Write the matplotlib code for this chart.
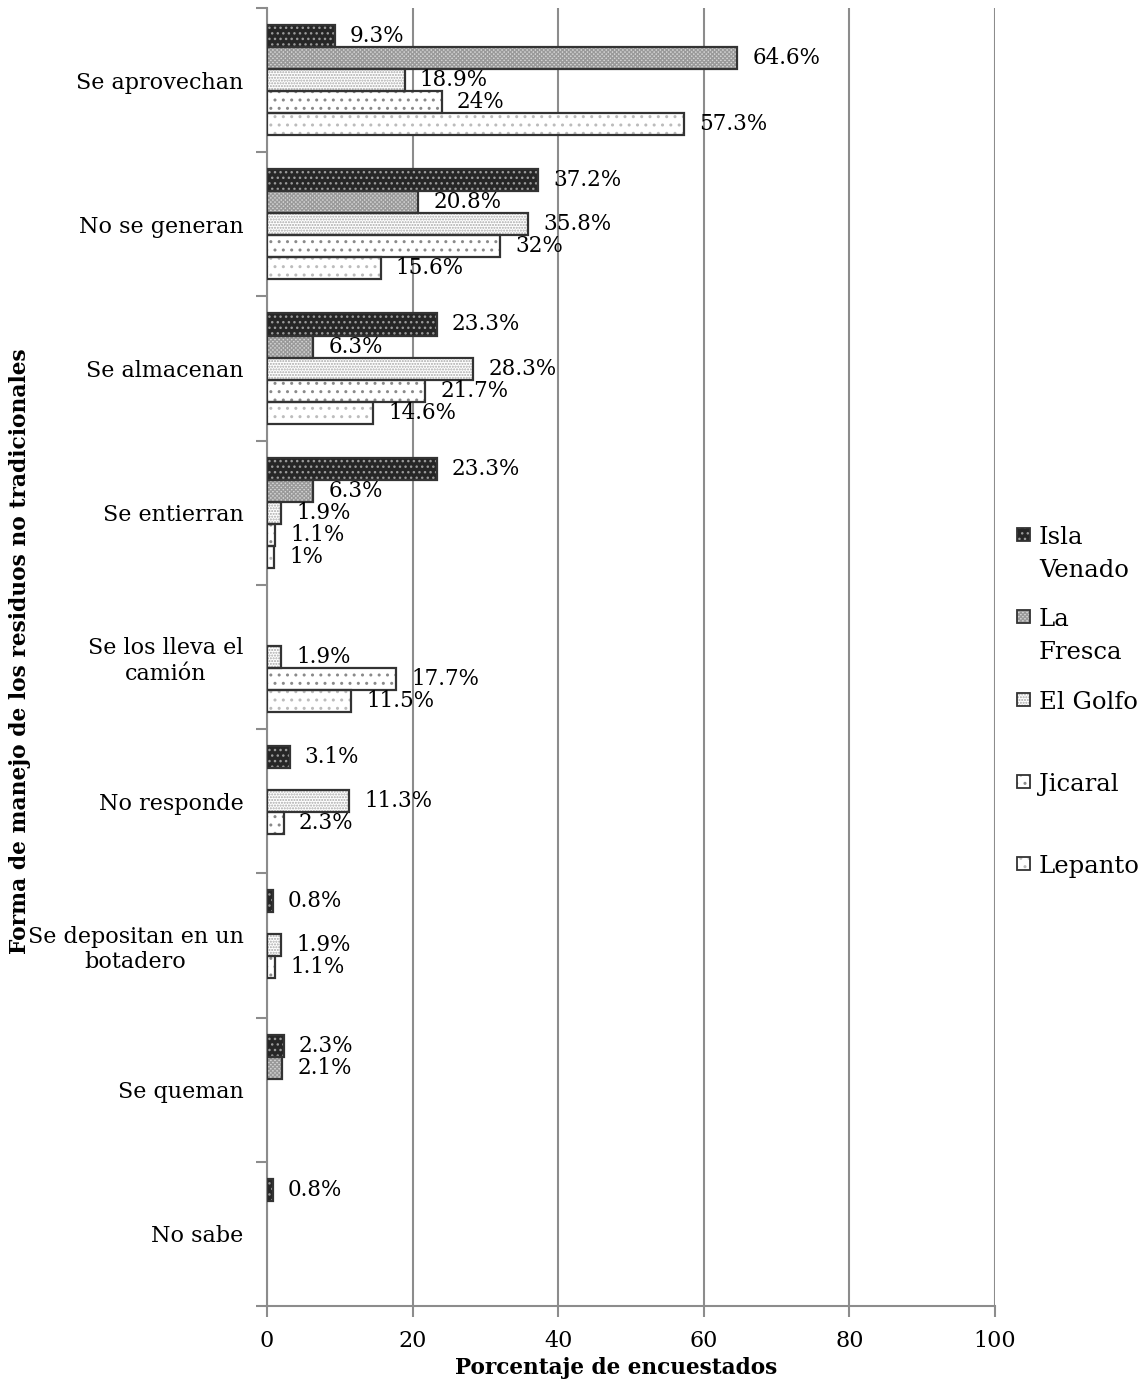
import numpy as np
import matplotlib
matplotlib.use("Agg")
import matplotlib.pyplot as plt
from matplotlib.patches import Rectangle

plt.rcParams['font.family'] = ['DejaVu Serif']

categories = ["Se aprovechan", "No se generan", "Se almacenan", "Se entierran",
              "Se los lleva el\ncamión", "No responde", "Se depositan en un\nbotadero",
              "Se queman", "No sabe"]
series = ["Isla\nVenado", "La\nFresca", "El Golfo", "Jicaral", "Lepanto"]
nan = np.nan
isla_venado = [9.3, 37.2, 23.3, 23.3, nan, 3.1, 0.8, 2.3, 0.8]
la_fresca = [64.6, 20.8, 6.3, 6.3, nan, nan, nan, 2.1, nan]
el_golfo = [18.9, 35.8, 28.3, 1.9, 1.9, 11.3, 1.9, nan, nan]
jicaral = [24, 32, 21.7, 1.1, 17.7, 2.3, 1.1, nan, nan]
lepanto = [57.3, 15.6, 14.6, 1, 11.5, nan, nan, nan, nan]
values = [isla_venado, la_fresca, el_golfo, jicaral, lepanto]
x_ticks = [0, 20, 40, 60, 80, 100]

faces = ['#262626', '#d6d6d6', 'white', 'white', 'white']
hcolors = ['#9a9a9a', '#9a9a9a', '#a8a8a8', '#8a8a8a', '#bcbcbc']
hatches = ['...', '\\\\\\\\\\\\\\\\////////', '......', '..', '..']

W, H = 1148, 1385
fig = plt.figure(figsize=(W/100, H/100), dpi=100)
ax = fig.add_axes([267/W, 1-1306/H, (995-267)/W, (1306-8)/H])

n = len(categories)
bh = 22/144
off = 17/144
for j, vals in enumerate(values):
    for i, v in enumerate(vals):
        if np.isnan(v):
            continue
        yc = i + off + bh*(j+0.5)
        ax.barh(yc, v, height=bh, color=faces[j], edgecolor=hcolors[j],
                hatch=hatches[j], linewidth=0, zorder=3)
        ax.barh(yc, v, height=bh, fill=False, edgecolor='#333333',
                linewidth=1.6, zorder=4)
        lab = ('%g' % v) + '%'
        ax.annotate(lab, (v, yc), xytext=(11, 0), textcoords='offset points',
                    ha='left', va='center', fontsize=15.5, zorder=5)

ax.set_xlim(0, 100)
ax.set_ylim(n, 0)
ax.set_xticks(x_ticks)
ax.set_xticklabels([str(t) for t in x_ticks], fontsize=16)
ax.set_yticks(np.arange(0, n+1))
ax.set_yticklabels([])
ax.set_yticks(np.arange(n)+0.5, minor=True)
ax.set_yticklabels(categories, minor=True, fontsize=16, multialignment='center')
ax.tick_params(axis='y', which='minor', length=0, pad=17)
ax.tick_params(axis='y', which='major', length=8, width=1.5, color='#8c8c8c')
ax.tick_params(axis='x', length=8, width=1.5, color='#8c8c8c', pad=9)
ax.grid(axis='x', color='#8c8c8c', linewidth=1.5, zorder=0)
ax.set_axisbelow(True)
for s in ['top', 'right']:
    ax.spines[s].set_visible(False)
for s in ['left', 'bottom']:
    ax.spines[s].set_color('#8c8c8c')
    ax.spines[s].set_linewidth(1.5)

ax.set_xlabel("Porcentaje de encuestados", fontsize=15.6, fontweight='bold')
ax.xaxis.set_label_coords((616-267)/728, (1306-1368)/1298)
ax.xaxis.label.set_va('center')
ax.set_ylabel("Forma de manejo de los residuos no tradicionales", fontsize=15.7,
              fontweight='bold')
ax.yaxis.set_label_coords((20-267)/728, (1306-651)/1298)
ax.yaxis.label.set_va('center')

# legend, entries placed in equal slots, text top-aligned
slot_y = [535, 617, 700, 782, 864]
for j in range(5):
    yc = slot_y[j]
    fig.add_artist(Rectangle((1017/W, 1-(yc+6)/H), 13/W, 13/H,
                             transform=fig.transFigure, facecolor=faces[j],
                             edgecolor=hcolors[j], hatch=hatches[j], linewidth=0))
    fig.add_artist(Rectangle((1017/W, 1-(yc+6)/H), 13/W, 13/H,
                             transform=fig.transFigure, fill=False,
                             edgecolor='#333333', linewidth=1.3))
    for k, line in enumerate(series[j].split('\n')):
        fig.text(1039/W, 1-(yc+33*k)/H, line, fontsize=17.5, ha='left',
                 va='center_baseline')

fig.savefig("out.png", dpi=100)
